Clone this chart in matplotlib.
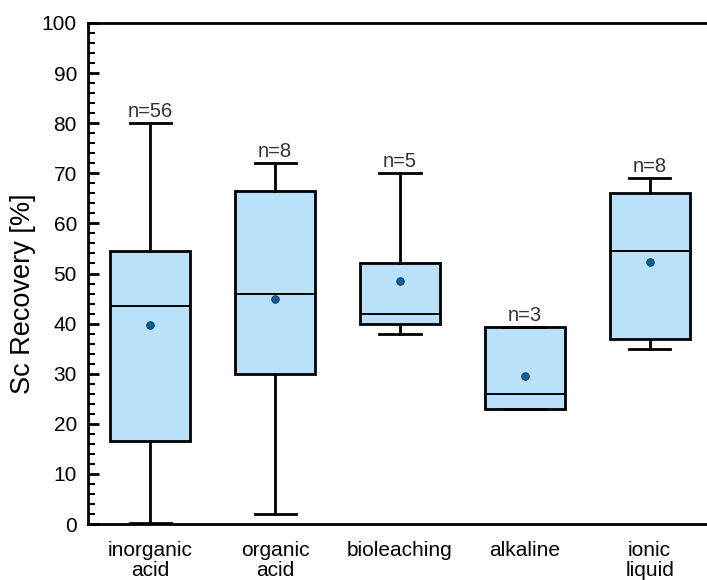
import matplotlib.pyplot as plt
from matplotlib.ticker import MultipleLocator

plt.rcParams['font.family'] = ['Liberation Sans', 'DejaVu Sans']

# Kategorie a statistiky boxplotu
categories = ['inorganic\nacid', 'organic\nacid', 'bioleaching', 'alkaline', 'ionic\nliquid']
whislo = [0.2, 2.0, 38.0, 23.0, 35.0]
q1 = [16.5, 30.0, 40.0, 23.0, 37.0]
med = [43.5, 46.0, 42.0, 26.0, 54.5]
q3 = [54.5, 66.5, 52.0, 39.3, 66.0]
whishi = [80.0, 72.0, 70.0, 39.3, 69.0]
means = [39.7, 45.0, 48.5, 29.5, 52.3]
counts = [56, 8, 5, 3, 8]

stats = []
for i in range(len(categories)):
    stats.append({'label': categories[i], 'whislo': whislo[i], 'q1': q1[i], 'med': med[i],
                  'q3': q3[i], 'whishi': whishi[i], 'mean': means[i], 'fliers': []})

fig = plt.figure(figsize=(7.07, 5.80), dpi=100)
ax = fig.add_axes([88 / 707, 1 - 524 / 580, 624 / 707, 501 / 580])

positions = list(range(1, len(categories) + 1))
ax.bxp(stats, positions=positions, widths=0.64, patch_artist=True, showmeans=True,
       boxprops=dict(facecolor='#b9e1fa', edgecolor='black', linewidth=2),
       medianprops=dict(color='black', linewidth=1.4),
       whiskerprops=dict(color='black', linewidth=2),
       capprops=dict(color='black', linewidth=2),
       capwidths=0.33,
       meanprops=dict(marker='o', markerfacecolor='#0d5d99', markeredgecolor='#073a63',
                      markersize=5.5, markeredgewidth=0.6))

# Popisky počtu nad horními vousy
for p, hi, n in zip(positions, whishi, counts):
    ax.text(p, hi + 0.5, f'n={n}', ha='center', va='bottom', fontsize=14.5, color='#333333')

ax.set_xlim(0.5, 5.5)
ax.set_ylim(0, 100)
ax.set_xticks(positions)
ax.set_xticklabels(categories, fontsize=15, linespacing=1.1)
ax.yaxis.set_major_locator(MultipleLocator(10))
ax.yaxis.set_minor_locator(MultipleLocator(2))
ax.tick_params(axis='y', which='major', direction='in', length=8, width=2, labelsize=15, pad=8)
ax.tick_params(axis='y', which='minor', direction='in', length=5, width=1.5)
ax.tick_params(axis='x', length=0, pad=12)
ax.set_ylabel('Sc Recovery [%]', fontsize=19.5)
ax.yaxis.set_label_coords(-0.084, 0.46)

for s in ['left', 'bottom', 'top']:
    ax.spines[s].set_linewidth(2)
ax.spines['right'].set_visible(False)

fig.savefig('out.png', dpi=100)
